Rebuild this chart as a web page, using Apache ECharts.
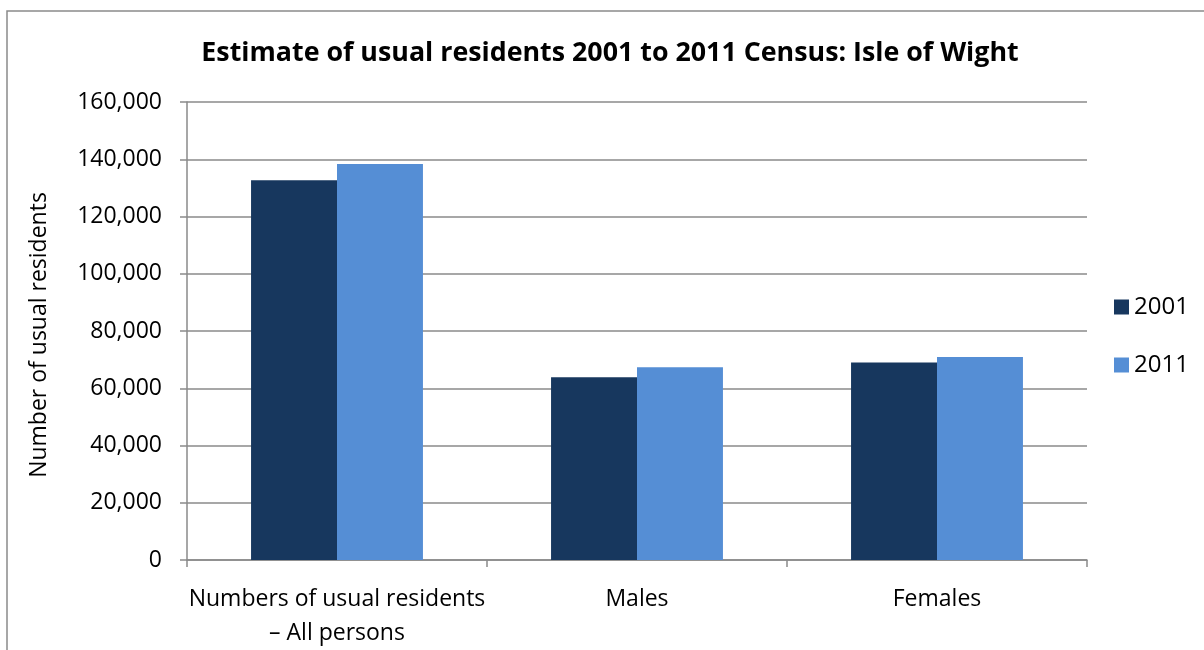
<!DOCTYPE html>
<html><head><meta charset="utf-8">
<script src="https://cdn.jsdelivr.net/npm/echarts@6/dist/echarts.min.js"></script>
<style>html,body{margin:0;padding:0;background:#fff}#c{width:1204px;height:650px}</style>
</head><body><div id="c"></div>
<script>
var categories = ['Numbers of usual residents\n– All persons', 'Males', 'Females'];
var series2001 = [132700, 63800, 69000];
var series2011 = [138300, 67300, 70900];
var seriesNames = ['2001', '2011'];
var yTicks = [0, 20000, 40000, 60000, 80000, 100000, 120000, 140000, 160000];

var FONT = 'Open Sans';
var chart = echarts.init(document.getElementById('c'));
chart.setOption({
  animation: false,
  backgroundColor: '#fff',
  textStyle: {fontFamily: FONT},
  title: {
    text: 'Estimate of usual residents 2001 to 2011 Census: Isle of Wight',
    left: 605, top: 35, textAlign: 'center',
    textStyle: {fontFamily: FONT, fontWeight: 'bold', fontSize: 26.8, color: '#000'}
  },
  graphic: [{
    type: 'rect', shape: {x: 7, y: 11, width: 1300, height: 800},
    style: {fill: 'none', stroke: '#8a8a8a', lineWidth: 1.5}, silent: true, z: -1
  }],
  legend: {
    orient: 'vertical', left: 1109, top: 290,
    itemWidth: 15, itemHeight: 15, itemGap: 34,
    icon: 'rect',
    textStyle: {fontFamily: FONT, fontSize: 24, color: '#000', lineHeight: 24},
    data: seriesNames
  },
  grid: {left: 187, right: 117, top: 102, bottom: 87, containLabel: false},
  xAxis: {
    type: 'category', data: categories,
    axisLine: {lineStyle: {color: '#8a8a8a', width: 1.5}},
    axisTick: {show: true, length: 7, lineStyle: {color: '#8a8a8a', width: 1.5}},
    axisLabel: {fontFamily: FONT, fontSize: 23, color: '#000', margin: 22, lineHeight: 34, interval: 0}
  },
  yAxis: {
    type: 'value', min: yTicks[0], max: yTicks[yTicks.length-1], interval: 20000,
    name: 'Number of usual residents', nameLocation: 'middle', nameGap: 136,
    nameTextStyle: {fontFamily: FONT, fontSize: 23, color: '#000', padding: [0, 0, 0, -8]},
    axisLine: {show: true, lineStyle: {color: '#8a8a8a', width: 1.5}},
    axisTick: {show: true, length: 7, lineStyle: {color: '#8a8a8a', width: 1.5}},
    splitLine: {show: true, lineStyle: {color: '#8a8a8a', width: 1.5}},
    axisLabel: {fontFamily: FONT, fontSize: 23, color: '#000', margin: 25,
      formatter: function(v){ return v.toLocaleString('en-US'); }}
  },
  series: [
    {name: seriesNames[0], type: 'bar', data: series2001, barGap: '0%', barCategoryGap: '42.7%',
     itemStyle: {color: '#17375E'}},
    {name: seriesNames[1], type: 'bar', data: series2011, barGap: '0%', barCategoryGap: '42.7%',
     itemStyle: {color: '#558ED5'}}
  ]
});
</script></body></html>
